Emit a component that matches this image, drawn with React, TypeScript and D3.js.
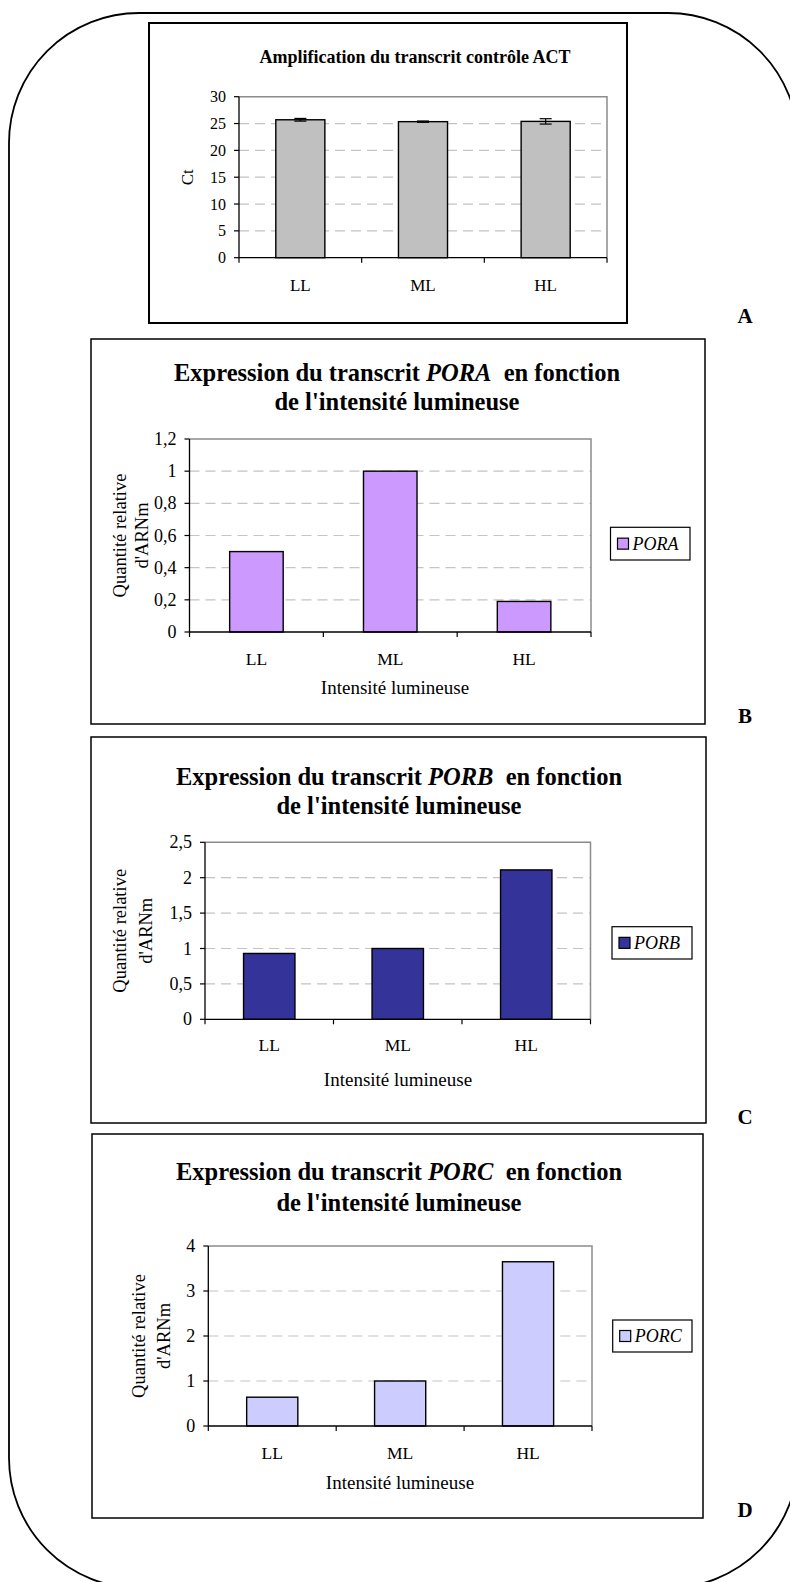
import React from "react";
import * as d3 from "d3";

// ---------- data ----------
const categories = ["LL", "ML", "HL"];
const actCt = [25.7, 25.35, 25.4];
const actErr = [0.25, 0.12, 0.5];
const actTicks = [0, 5, 10, 15, 20, 25, 30];
const poraValues = [0.5, 1.0, 0.19];
const poraTicks = [0, 0.2, 0.4, 0.6, 0.8, 1, 1.2];
const porbValues = [0.93, 1.0, 2.11];
const porbTicks = [0, 0.5, 1, 1.5, 2, 2.5];
const porcValues = [0.64, 1.0, 3.65];
const porcTicks = [0, 1, 2, 3, 4];
const genes = ["PORA", "PORB", "PORC"];
const panelLetters = ["A", "B", "C", "D"];
const actTitle = "Amplification du transcrit contrôle ACT";
const actYTitle = "Ct";
const yTitleLines = ["Quantité relative", "d'ARNm"];
const xTitle = "Intensité lumineuse";

const SERIF = "'Liberation Serif', 'Times New Roman', serif";
const fmt = (v: number) => String(v).replace(".", ",");

type Layout = {
  box: [number, number, number, number];
  plot: { l: number; r: number; t: number; b: number };
  titleX: number;
  titleY: [number, number];
  yTitleX: [number, number];
  catY: number;
  xTitleX: number;
  xTitleY: number;
  legend: [number, number, number, number];
  letterY: number;
};

function ExprPanel({
  layout, values, ticks, fill, gene, letter,
}: { layout: Layout; values: number[]; ticks: number[]; fill: string; gene: string; letter: string }) {
  const { box, plot } = layout;
  const x = d3.scaleBand<string>().domain(categories).range([plot.l, plot.r]).paddingInner(0.6).paddingOuter(0.3);
  const xEdges = d3.scaleBand<string>().domain(categories).range([plot.l, plot.r]).padding(0);
  const y = d3.scaleLinear().domain([0, ticks[ticks.length - 1]]).range([plot.b, plot.t]);
  const yMid = (plot.t + plot.b) / 2;
  const [lx, ly, lw, lh] = layout.legend;
  return (
    <g fontFamily={SERIF}>
      <rect x={box[0]} y={box[1]} width={box[2]} height={box[3]} fill="#fff" stroke="#000" strokeWidth={1.5} />
      <text x={layout.titleX} y={layout.titleY[0]} textAnchor="middle" fontWeight="bold" fontSize={24.5} style={{ whiteSpace: "pre" }}>
        Expression du transcrit <tspan fontStyle="italic">{gene}</tspan>{"\u00A0 en fonction"}
      </text>
      <text x={layout.titleX} y={layout.titleY[1]} textAnchor="middle" fontWeight="bold" fontSize={24.5}>
        de l'intensité lumineuse
      </text>
      {ticks.slice(1, -1).map((t) => (
        <line key={"g" + t} x1={plot.l} x2={plot.r} y1={y(t)} y2={y(t)} stroke="#c4c4c4" strokeWidth={1.2} strokeDasharray="10,6" />
      ))}
      <polyline points={`${plot.l},${plot.t} ${plot.r},${plot.t} ${plot.r},${plot.b}`} fill="none" stroke="#8c8c8c" strokeWidth={1.5} />
      {values.map((v, i) => (
        <rect key={"b" + i} x={x(categories[i])} y={y(v)} width={x.bandwidth()} height={plot.b - y(v)} fill={fill} stroke="#000" strokeWidth={1.4} />
      ))}
      <line x1={plot.l} x2={plot.l} y1={plot.t} y2={plot.b} stroke="#000" strokeWidth={1.3} />
      <line x1={plot.l} x2={plot.r} y1={plot.b} y2={plot.b} stroke="#000" strokeWidth={1.3} />
      {ticks.map((t) => (
        <g key={"t" + t}>
          <line x1={plot.l - 5} x2={plot.l} y1={y(t)} y2={y(t)} stroke="#000" strokeWidth={1.2} />
          <text x={plot.l - 13} y={y(t) + 6} textAnchor="end" fontSize={18}>{fmt(t)}</text>
        </g>
      ))}
      {categories.map((c) => (
        <line key={"xt" + c} x1={xEdges(c)} x2={xEdges(c)} y1={plot.b} y2={plot.b + 5} stroke="#000" strokeWidth={1.2} />
      ))}
      <line x1={plot.r} x2={plot.r} y1={plot.b} y2={plot.b + 5} stroke="#000" strokeWidth={1.2} />
      {categories.map((c) => (
        <text key={"cl" + c} x={(x(c) as number) + x.bandwidth() / 2} y={layout.catY} textAnchor="middle" fontSize={17.5}>{c}</text>
      ))}
      <text x={layout.xTitleX} y={layout.xTitleY} textAnchor="middle" fontSize={19}>{xTitle}</text>
      {yTitleLines.map((s, i) => (
        <text key={"yt" + i} transform={`translate(${layout.yTitleX[i]},${yMid}) rotate(-90)`} textAnchor="middle" fontSize={18.5}>{s}</text>
      ))}
      <rect x={lx} y={ly} width={lw} height={lh} fill="#fff" stroke="#000" strokeWidth={1.2} />
      <rect x={lx + 7} y={ly + lh / 2 - 5.5} width={11} height={11} fill={fill} stroke="#000" strokeWidth={1.2} />
      <text x={lx + 22} y={ly + lh / 2 + 6} fontSize={18} fontStyle="italic">{gene}</text>
      <text x={745} y={layout.letterY} textAnchor="middle" fontWeight="bold" fontSize={21}>{letter}</text>
    </g>
  );
}

function ActPanel() {
  const box = [149, 23, 478, 300];
  const plot = { l: 239, r: 607, t: 96.7, b: 257.7 };
  const x = d3.scaleBand<string>().domain(categories).range([plot.l, plot.r]).paddingInner(0.6).paddingOuter(0.3);
  const xEdges = d3.scaleBand<string>().domain(categories).range([plot.l, plot.r]).padding(0);
  const y = d3.scaleLinear().domain([0, actTicks[actTicks.length - 1]]).range([plot.b, plot.t]);
  return (
    <g fontFamily={SERIF}>
      <rect x={box[0]} y={box[1]} width={box[2]} height={box[3]} fill="#fff" stroke="#000" strokeWidth={2} />
      <text x={415} y={63} textAnchor="middle" fontWeight="bold" fontSize={18}>{actTitle}</text>
      {actTicks.slice(1, -1).map((t) => (
        <line key={"g" + t} x1={plot.l} x2={plot.r} y1={y(t)} y2={y(t)} stroke="#c4c4c4" strokeWidth={1.2} strokeDasharray="10,6" />
      ))}
      <polyline points={`${plot.l},${plot.t} ${plot.r},${plot.t} ${plot.r},${plot.b}`} fill="none" stroke="#8c8c8c" strokeWidth={1.5} />
      {actCt.map((v, i) => (
        <rect key={"b" + i} x={x(categories[i])} y={y(v)} width={x.bandwidth()} height={plot.b - y(v)} fill="#c0c0c0" stroke="#000" strokeWidth={1.4} />
      ))}
      {actCt.map((v, i) => {
        const cx = (x(categories[i]) as number) + x.bandwidth() / 2;
        const y1 = y(v + actErr[i]);
        const y2 = y(v - actErr[i]);
        return (
          <g key={"e" + i} stroke="#000" strokeWidth={1.2}>
            <line x1={cx} x2={cx} y1={y1} y2={y2} />
            <line x1={cx - 6} x2={cx + 6} y1={y1} y2={y1} />
            <line x1={cx - 6} x2={cx + 6} y1={y2} y2={y2} />
          </g>
        );
      })}
      <line x1={plot.l} x2={plot.l} y1={plot.t} y2={plot.b} stroke="#000" strokeWidth={1.3} />
      <line x1={plot.l} x2={plot.r} y1={plot.b} y2={plot.b} stroke="#000" strokeWidth={1.3} />
      {actTicks.map((t) => (
        <g key={"t" + t}>
          <line x1={plot.l - 5} x2={plot.l} y1={y(t)} y2={y(t)} stroke="#000" strokeWidth={1.2} />
          <text x={plot.l - 13} y={y(t) + 5.5} textAnchor="end" fontSize={16}>{fmt(t)}</text>
        </g>
      ))}
      {categories.map((c) => (
        <line key={"xt" + c} x1={xEdges(c)} x2={xEdges(c)} y1={plot.b} y2={plot.b + 5} stroke="#000" strokeWidth={1.2} />
      ))}
      <line x1={plot.r} x2={plot.r} y1={plot.b} y2={plot.b + 5} stroke="#000" strokeWidth={1.2} />
      {categories.map((c) => (
        <text key={"cl" + c} x={(x(c) as number) + x.bandwidth() / 2} y={291} textAnchor="middle" fontSize={17}>{c}</text>
      ))}
      <text transform={`translate(193,${(plot.t + plot.b) / 2}) rotate(-90)`} textAnchor="middle" fontSize={17}>{actYTitle}</text>
      <text x={745} y={323} textAnchor="middle" fontWeight="bold" fontSize={21}>{panelLetters[0]}</text>
    </g>
  );
}

const layoutB: Layout = {
  box: [91, 339, 614, 385],
  plot: { l: 189.5, r: 591, t: 439, b: 632 },
  titleX: 397, titleY: [381, 410],
  yTitleX: [126, 148],
  catY: 665, xTitleX: 395, xTitleY: 694,
  legend: [610.5, 527.3, 79.5, 32.7],
  letterY: 723,
};
const layoutC: Layout = {
  box: [91, 737, 615, 386],
  plot: { l: 205, r: 590.5, t: 842.3, b: 1019.3 },
  titleX: 399, titleY: [785, 814],
  yTitleX: [126, 152],
  catY: 1051, xTitleX: 398, xTitleY: 1086,
  legend: [612, 926.7, 80, 32.3],
  letterY: 1124,
};
const layoutD: Layout = {
  box: [92, 1134, 611, 384],
  plot: { l: 208.3, r: 592, t: 1246, b: 1426 },
  titleX: 399, titleY: [1180, 1211],
  yTitleX: [145, 170],
  catY: 1459, xTitleX: 400, xTitleY: 1489,
  legend: [612.7, 1320, 79.3, 32],
  letterY: 1517,
};

export default function App() {
  return (
    <div style={{ position: "absolute", left: 0, top: 0 }}>
      <svg width={790} height={1582} style={{ display: "block", background: "#fff" }}>
        <rect x={9} y={13} width={789} height={1575} rx={130} ry={130} fill="#fff" stroke="#000" strokeWidth={1.8} />
        <ActPanel />
        <ExprPanel layout={layoutB} values={poraValues} ticks={poraTicks} fill="#cc99ff" gene={genes[0]} letter={panelLetters[1]} />
        <ExprPanel layout={layoutC} values={porbValues} ticks={porbTicks} fill="#333399" gene={genes[1]} letter={panelLetters[2]} />
        <ExprPanel layout={layoutD} values={porcValues} ticks={porcTicks} fill="#ccccff" gene={genes[2]} letter={panelLetters[3]} />
      </svg>
    </div>
  );
}
